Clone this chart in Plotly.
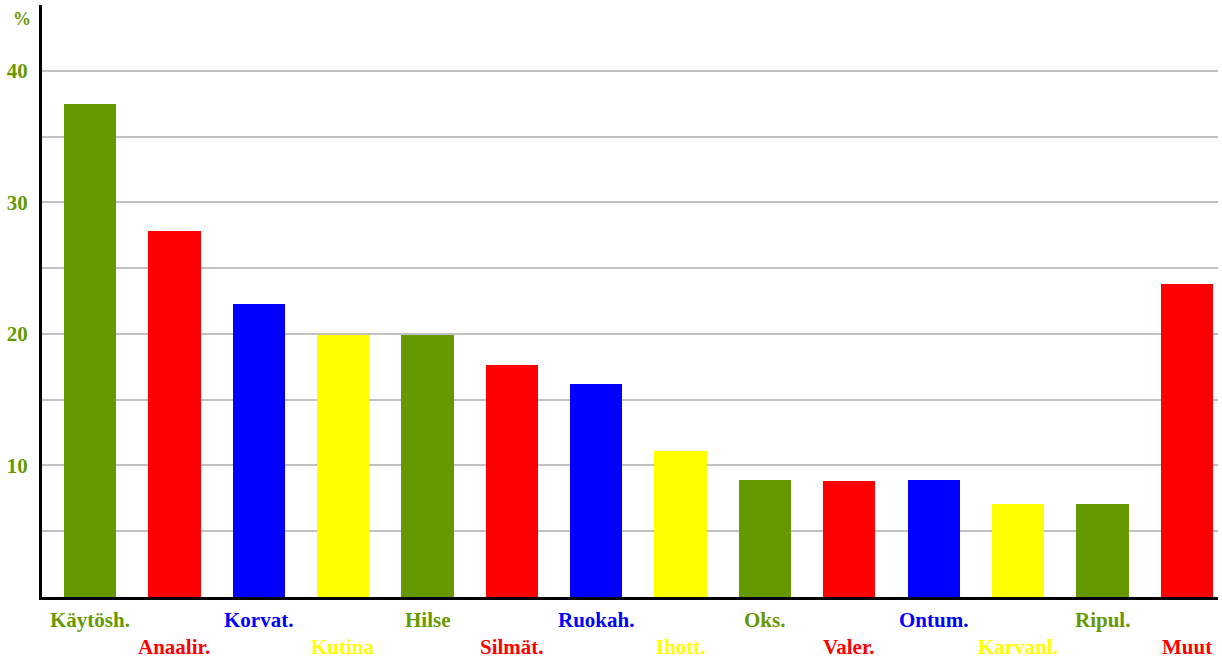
import plotly.graph_objects as go

categories = ["Käytösh.", "Anaalir.", "Korvat.", "Kutina", "Hilse", "Silmät.", "Ruokah.",
              "Ihott.", "Oks.", "Valer.", "Ontum.", "Karvanl.", "Ripul.", "Muut"]
values = [37.5, 27.8, 22.3, 19.9, 19.9, 17.6, 16.2, 11.1, 8.9, 8.8, 8.9, 7.1, 7.1, 23.8]
colors = ["#669900", "#FF0000", "#0000FF", "#FFFF00", "#669900", "#FF0000", "#0000FF",
          "#FFFF00", "#669900", "#FF0000", "#0000FF", "#FFFF00", "#669900", "#FF0000"]
label_rows = [0, 1, 0, 1, 0, 1, 0, 1, 0, 1, 0, 1, 0, 1]
y_ticks = [10, 20, 30, 40]

FONT = "Liberation Serif"
W, H = 1222, 660
M = dict(l=42, r=4, t=5, b=63)
plot_h = H - M["t"] - M["b"]

fig = go.Figure()
fig.add_trace(go.Bar(
    x=list(range(len(categories))), y=values,
    marker=dict(color=colors, line=dict(width=0)),
    width=0.62, hoverinfo="skip",
))

for i, (cat, row, col) in enumerate(zip(categories, label_rows, colors)):
    py = 620 if row == 0 else 647
    fig.add_annotation(
        x=i, xref="x", y=(H - M["b"] - py) / plot_h, yref="paper",
        text=cat, showarrow=False, yanchor="middle", xanchor="center",
        font=dict(family=FONT, size=21, color=col, weight="bold"),
    )

fig.add_annotation(
    x=0, xref="paper", xshift=-20, xanchor="center", y=43.9, yref="y", text="%",
    showarrow=False,
    font=dict(family=FONT, size=18, color="#669900", weight="bold"),
)

fig.update_layout(
    width=W, height=H, margin=M,
    paper_bgcolor="white", plot_bgcolor="white",
    showlegend=False, bargap=0,
)
fig.update_xaxes(
    range=[-0.57, 13.37], showticklabels=False, showgrid=False, zeroline=False,
    showline=True, linecolor="black", linewidth=3, fixedrange=True,
)
fig.update_yaxes(
    range=[0, 45], tickvals=y_ticks, ticktext=[str(v) for v in y_ticks],
    showgrid=True, gridcolor="#C0C0C0", gridwidth=2,
    minor=dict(dtick=5, tick0=0, showgrid=True, gridcolor="#C0C0C0", gridwidth=2),
    zeroline=False, showline=True, linecolor="black", linewidth=3,
    ticks="", ticklabelstandoff=7,
    tickfont=dict(family=FONT, size=21, color="#669900", weight="bold"),
    fixedrange=True,
)

fig.write_html("out.html", config={"displayModeBar": False},
               post_script="document.body.style.margin='0';")
